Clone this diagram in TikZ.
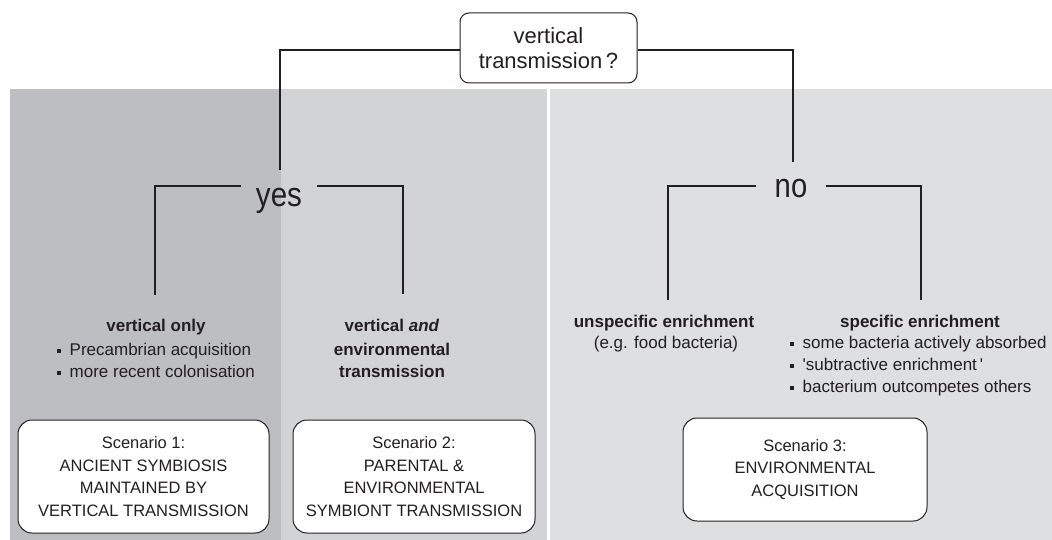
\documentclass[tikz,border=0pt]{standalone}
\usepackage{fontspec}
\newfontfamily\lsans{Liberation Sans}
\definecolor{bandA}{RGB}{189,190,194}
\definecolor{bandB}{RGB}{210,211,213}
\definecolor{bandC}{RGB}{222,223,225}
\definecolor{ink}{RGB}{35,31,32}
\newcommand{\sqb}{\raisebox{2.5pt}{\rule{4pt}{4pt}}\hspace{8.5pt}}
\tikzset{
  conn/.style={draw=ink, line width=1.1pt},
  lab/.style={font={\lsans\bfseries\fontsize{17}{22}\selectfont}, text=ink, anchor=base, inner sep=0pt},
  txt/.style={font={\lsans\fontsize{17}{22}\selectfont}, text=ink, anchor=base, inner sep=0pt},
  bul/.style={txt, anchor=base west},
  big/.style={font={\lsans\fontsize{34}{40}\selectfont}, text=ink, anchor=base, inner sep=0pt},
  qbox/.style={draw=ink, line width=1pt, fill=white, rounded corners=9pt, align=center,
    font={\lsans\fontsize{22}{25}\selectfont}, text=ink, minimum width=177pt, minimum height=70pt, inner sep=0pt},
  scen/.style={draw=ink, line width=1pt, fill=white, rounded corners=14pt, align=center,
    font={\lsans\fontsize{16.5}{22.5}\selectfont}, text=ink, inner sep=0pt}
}
\begin{document}
\begin{tikzpicture}[x=1pt,y=-1pt]
\useasboundingbox (0,0) rectangle (1052,540);
% background bands
\fill[bandA] (10,89) rectangle (281,540);
\fill[bandB] (281,89) rectangle (547,540);
\fill[bandC] (550,89) rectangle (1052,540);

% question box
\node[qbox] (q) at (548.5,48) {vertical\\transmission\,?};

% yes / no
\node[big] (yes) at (279,207) {\scalebox{0.87}[1]{yes}};
\node[big] (no) at (791,198) {\scalebox{0.86}[1]{no}};

\coordinate (yt) at (280,170);
\coordinate (nt) at (793,162);
\draw[conn] ([yshift=-2pt]q.west) -| (yt);
\draw[conn] ([yshift=-2pt]q.east) -| (nt);

% yes bracket
\coordinate (yl) at (241,186);
\coordinate (yr) at (317,186);
\coordinate (yle) at (155,295);
\coordinate (yre) at (403,294);
\draw[conn] (yl) -| (yle);
\draw[conn] (yr) -| (yre);

% no bracket
\coordinate (nl) at (756,186);
\coordinate (nr) at (826,186);
\coordinate (nle) at (668,300);
\coordinate (nre) at (921,300);
\draw[conn] (nl) -| (nle);
\draw[conn] (nr) -| (nre);

% labels left
\node[lab] (vo) at (156,331) {vertical only};
\node[bul] (vo1) at (57,355) {\sqb Precambrian acquisition};
\node[bul] (vo2) at (57,377) {\sqb more recent colonisation};

\node[lab] (va1) at (392,331) {vertical \textit{and}};
\node[lab] (va2) at (392,355) {environmental};
\node[lab] (va3) at (392,377) {transmission};

% labels right
\node[lab] (ue) at (664,327) {unspecific enrichment};
\node[txt] (ue1) at (666,348) {(e.g. food bacteria)};

\node[lab] (se) at (920,327) {specific enrichment};
\node[bul] (se1) at (790,348) {\sqb some bacteria actively absorbed};
\node[bul] (se2) at (790,370) {\sqb 'subtractive enrichment\,'};
\node[bul] (se3) at (790,392) {\sqb bacterium outcompetes others};

% scenario boxes
\node[scen, minimum width=251pt, minimum height=113pt] (s1) at (143.5,476.5)
  {Scenario 1:\\ANCIENT SYMBIOSIS\\MAINTAINED BY\\VERTICAL TRANSMISSION};
\node[scen, minimum width=242pt, minimum height=113pt] (s2) at (414,476.5)
  {Scenario 2:\\PARENTAL \&\\ENVIRONMENTAL\\SYMBIONT TRANSMISSION};
\node[scen, minimum width=244pt, minimum height=103pt] (s3) at (805,469.5)
  {Scenario 3:\\ENVIRONMENTAL\\ACQUISITION};
\end{tikzpicture}
\end{document}
